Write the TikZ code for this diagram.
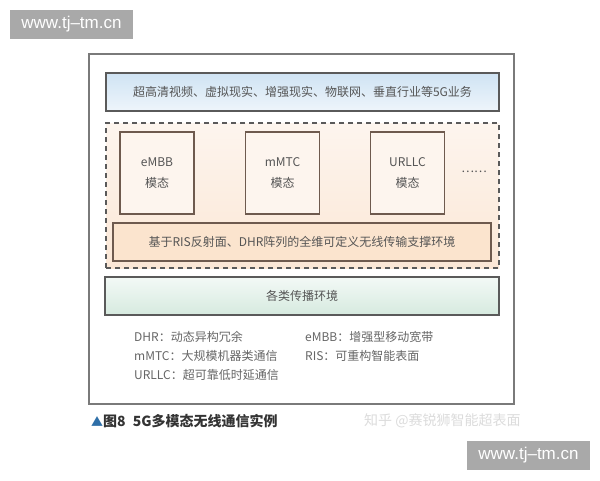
\documentclass[tikz,border=0pt]{standalone}
\usepackage{fontspec}
\setmainfont{Noto Sans CJK SC}
\newfontfamily\wmfont{Liberation Sans}
\usepackage{tikz}
\definecolor{edgegray}{HTML}{5A5A5A}
\definecolor{framegray}{HTML}{7A7A7A}
\definecolor{txtgray}{HTML}{555555}
\definecolor{appblue}{HTML}{CFE3F3}
\definecolor{appwhite}{HTML}{EEF5FB}
\definecolor{peachlo}{HTML}{FBE7D6}
\definecolor{peachhi}{HTML}{FDF5EE}
\definecolor{modebrown}{HTML}{6E5A4E}
\definecolor{supportfill}{HTML}{FBE4CE}
\definecolor{propgreen}{HTML}{D6EADF}
\definecolor{propwhite}{HTML}{F3F9F6}
\definecolor{wmbox}{HTML}{A9A9A9}
\definecolor{wmtext}{HTML}{DCDCDC}
\definecolor{capblue}{HTML}{2E6FA8}

\begin{document}
\begin{tikzpicture}[x=1pt, y=-1pt,
        layer/.style={draw=edgegray, line width=1.3pt, inner sep=0pt, font=\fontsize{12}{14}\selectfont, text=txtgray},
        modebox/.style={draw=modebrown, line width=1.1pt, fill=peachhi, minimum width=74pt, minimum height=82pt, align=center, font=\fontsize{12}{21.5}\selectfont, text=txtgray},
        legend/.style={anchor=west, font=\fontsize{12}{14}\selectfont, text=txtgray!90, inner sep=0pt},
        site/.style={fill=wmbox, text=white, minimum width=123pt, minimum height=29pt, font=\wmfont\fontsize{17}{19}\selectfont, inner sep=0pt}]
        \useasboundingbox (0, 0) rectangle (600, 480);
        \fill[white] (0, 0) rectangle (600, 480);

        \node[site] (siteA) at (71.5, 24.5) {www.tj–tm.cn};
        \node[site] (siteB) at (528.5, 455.5) {www.tj–tm.cn};

        \node[draw=framegray, line width=1.1pt, minimum width=425pt, minimum height=350pt] (frame) at (301.5, 229) {};

        \node[layer, top color=appblue, bottom color=appwhite, minimum width=393pt, minimum height=38pt] (app) at (302.5, 92) {超高清视频、虚拟现实、增强现实、物联网、垂直行业等5G业务};

        \node[draw=edgegray, line width=1.3pt, dash pattern=on 5pt off 4pt, top color=peachhi, bottom color=peachlo, minimum width=393pt, minimum height=145pt] (modes) at (302.5, 195.5) {};

        \node[modebox] (eMBB) at (157, 173) {eMBB\\模态};
        \node[modebox] (mMTC) at (282.5, 173) {mMTC\\模态};
        \node[modebox] (URLLC) at (407.5, 173) {URLLC\\模态};
        \node[text=txtgray, font=\fontsize{12}{14}\selectfont] (more) at (474, 172) {……};

        \node[layer, draw=modebrown, line width=1.2pt, fill=supportfill, minimum width=378pt, minimum height=38pt] (support) at (302, 242) {基于RIS反射面、DHR阵列的全维可定义无线传输支撑环境};

        \node[layer, top color=propwhite, bottom color=propgreen, minimum width=394pt, minimum height=38pt] (prop) at (302, 296) {各类传播环境};

        \node[legend] (dhr) at (134, 337) {DHR：动态异构冗余};
        \node[legend] (mmtc) at (134, 356) {mMTC：大规模机器类通信};
        \node[legend] (urllc) at (134, 374.5) {URLLC：超可靠低时延通信};
        \node[legend] (embb) at (305, 337) {eMBB：增强型移动宽带};
        \node[legend] (ris) at (305, 356) {RIS：可重构智能表面};

        \node[anchor=west, inner sep=0pt, font=\fontsize{14}{16}\selectfont\bfseries, text=black!80] (caption) at (91, 421) {{\color{capblue}\fontsize{12}{14}\selectfont ▲}图8\; 5G多模态无线通信实例};
        \node[anchor=west, inner sep=0pt, font=\fontsize{14}{16}\selectfont, text=wmtext] (zhihu) at (364, 421) {知乎 @赛锐狮智能超表面};
      \end{tikzpicture}
\end{document}
